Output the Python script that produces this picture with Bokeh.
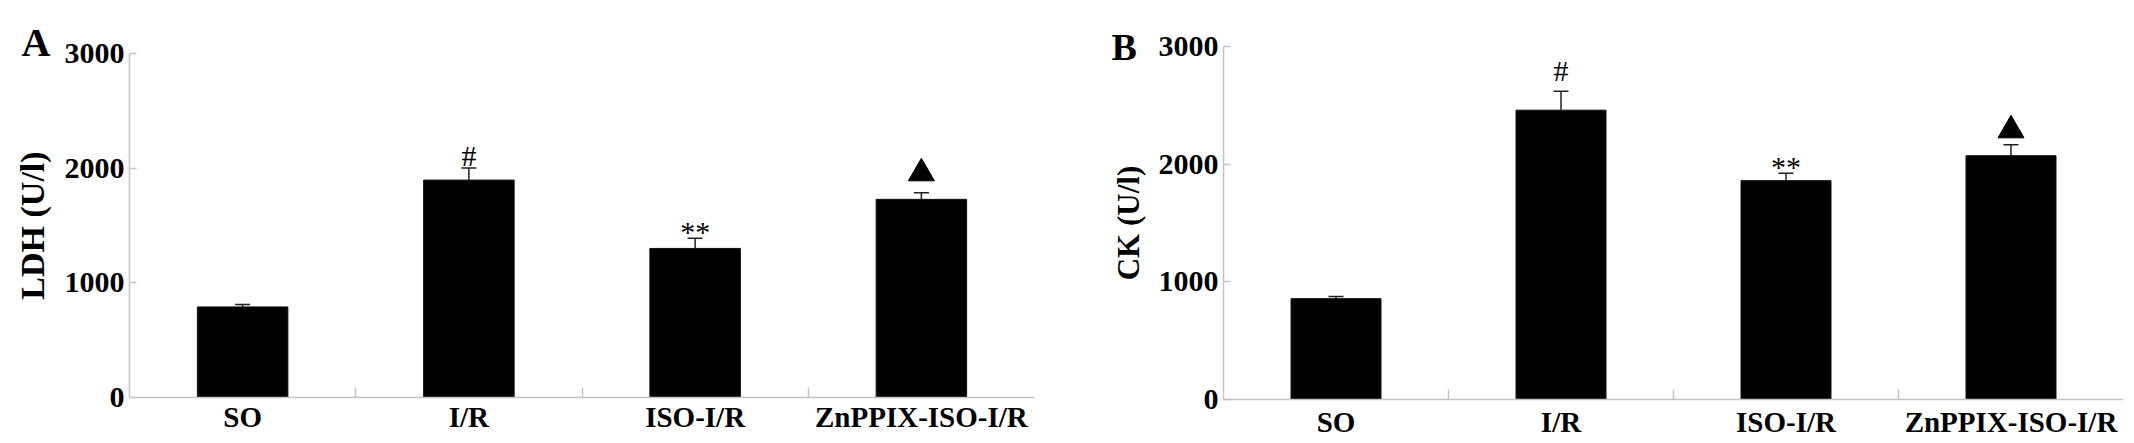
from bokeh.plotting import figure
from bokeh.layouts import row
from bokeh.models import FixedTicker, Whisker, TeeHead, ColumnDataSource, Range1d
from bokeh.core.properties import value
from bokeh.embed import file_html
from bokeh.resources import INLINE

# ---------------- data ----------------
categories = ["SO", "I/R", "ISO-I/R", "ZnPPIX-ISO-I/R"]
y_ticks = [0, 1000, 2000, 3000]

ldh_mean = [790, 1896, 1300, 1728]
ldh_err = [20, 106, 88, 57]
ldh_marks = ["", "#", "**", "▲"]

ck_mean = [857, 2459, 1860, 2072]
ck_err = [18, 160, 63, 93]
ck_marks = ["", "#", "**", "▲"]

FONT = "Liberation Serif"
AXIS_GRAY = "#c4c4c4"
H = 440


def make_panel(letter, ylabel, means, errs, marks, width, b_left, b_top, frame_w, frame_h,
               xlab_standoff, ylab_size, ylab_standoff, gaps, title_cfg):
    n = len(categories)
    xs = [i + 0.5 for i in range(n)]
    upper = [m + e for m, e in zip(means, errs)]
    ymax = y_ticks[-1]
    p = figure(width=width, height=H, x_range=Range1d(0, n), y_range=Range1d(0, ymax),
               output_backend="svg", toolbar_location=None, title=letter,
               min_border_left=b_left, min_border_top=b_top,
               min_border_right=width - b_left - frame_w,
               min_border_bottom=H - b_top - frame_h)
    try:
        p.frame_align = False
    except Exception:
        pass
    p.xgrid.visible = False
    p.ygrid.visible = False
    p.outline_line_color = None
    p.background_fill_color = "white"
    p.border_fill_color = "white"

    # panel letter as the figure title
    p.title.align = "left"
    p.title.offset = title_cfg[0]
    p.title.vertical_align = "bottom"
    p.title.standoff = title_cfg[1]
    p.title.text_font = FONT
    p.title.text_font_style = "bold"
    p.title.text_font_size = title_cfg[2]
    p.title.text_color = "black"

    src = ColumnDataSource(dict(x=xs, top=means, upper=upper))
    p.vbar(x="x", top="top", width=0.4, source=src, fill_color="black", line_color="#111111")
    p.add_layout(Whisker(source=src, base="x", upper="upper", lower="top",
                         upper_head=TeeHead(size=15, line_color="#222222", line_width=1.5),
                         lower_head=None, line_color="#222222", line_width=1.5, level="glyph"))

    # significance marks
    tx, ty, tt, toff = [], [], [], []
    trx, tri = [], []
    for i, mk in enumerate(marks):
        if mk == "▲":
            trx.append(xs[i])
            tri.append(upper[i] + (gaps[i] + 7.5) * ymax / frame_h)
        elif mk:
            tx.append(xs[i]); ty.append(upper[i]); tt.append(mk); toff.append(gaps[i])
    tsrc = ColumnDataSource(dict(x=tx, y=ty, t=tt, off=toff))
    p.text(x="x", y="y", text="t", y_offset="off", source=tsrc, text_align="center",
           text_baseline="alphabetic", text_font=value(FONT), text_font_size="30px",
           text_color="black")
    p.scatter(x=trx, y=tri, marker="triangle", size=26, fill_color="black", line_color="black")

    # x axis
    xa = p.xaxis[0]
    xa.ticker = FixedTicker(ticks=xs, minor_ticks=list(range(1, n)))
    xa.major_label_overrides = {x: c for x, c in zip(xs, categories)}
    xa.major_tick_in = 0
    xa.major_tick_out = 0
    xa.minor_tick_in = 10
    xa.minor_tick_out = 0
    xa.minor_tick_line_color = AXIS_GRAY
    xa.minor_tick_line_width = 1.5
    xa.axis_line_color = AXIS_GRAY
    xa.axis_line_width = 1.5
    xa.major_label_text_font = FONT
    xa.major_label_text_font_style = "bold"
    xa.major_label_text_font_size = "29px"
    xa.major_label_text_color = "black"
    xa.major_label_standoff = xlab_standoff

    # y axis
    ya = p.yaxis[0]
    ya.ticker = FixedTicker(ticks=y_ticks)
    ya.major_tick_in = 7
    ya.major_tick_out = 0
    ya.major_tick_line_color = AXIS_GRAY
    ya.major_tick_line_width = 1.5
    ya.minor_tick_line_color = None
    ya.axis_line_color = AXIS_GRAY
    ya.axis_line_width = 1.5
    ya.major_label_text_font = FONT
    ya.major_label_text_font_style = "bold"
    ya.major_label_text_font_size = "30px"
    ya.major_label_text_color = "black"
    ya.major_label_standoff = 5
    ya.axis_label = ylabel
    ya.axis_label_text_font = FONT
    ya.axis_label_text_font_style = "bold"
    ya.axis_label_text_font_size = ylab_size
    ya.axis_label_text_color = "black"
    ya.axis_label_standoff = ylab_standoff
    return p


pA = make_panel("A", "LDH (U/l)", ldh_mean, ldh_err, ldh_marks,
                width=1070, b_left=129, b_top=53, frame_w=905, frame_h=344,
                xlab_standoff=3, ylab_size="34px", ylab_standoff=11,
                gaps=[0, -12, -7, 12], title_cfg=(-108, -23, "40px"))
pB = make_panel("B", "CK (U/l)", ck_mean, ck_err, ck_marks,
                width=1064, b_left=153, b_top=46, frame_w=900, frame_h=355,
                xlab_standoff=6, ylab_size="31px", ylab_standoff=10,
                gaps=[0, -21, -7, 7], title_cfg=(-112, -42, "38px"))

layout = row(pA, pB, spacing=0)
open("out.html", "w").write(file_html(layout, INLINE))
